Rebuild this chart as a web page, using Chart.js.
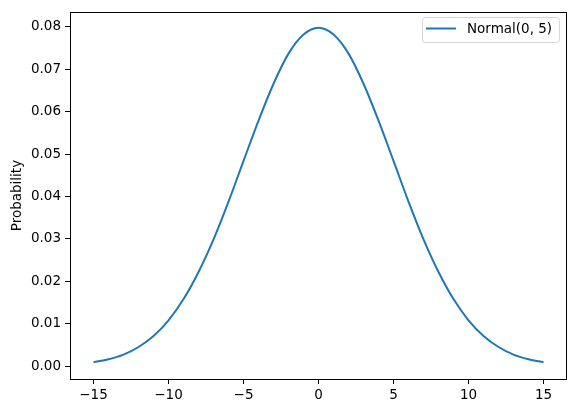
<!DOCTYPE html>
<html>
<head>
<meta charset="utf-8">
<script src="https://cdn.jsdelivr.net/npm/chart.js@4"></script>
<style>
  html, body { margin: 0; padding: 0; background: #fff; }
  #wrap { width: 576px; height: 413px; }
</style>
</head>
<body>
<div id="wrap"><canvas id="myChart" width="576" height="413"></canvas></div>
<script>
// values
const xs = [-15, -14, -13, -12, -11, -10, -9, -8, -7, -6, -5, -4, -3, -2, -1, 0,
            1, 2, 3, 4, 5, 6, 7, 8, 9, 10, 11, 12, 13, 14, 15];
const probs = [0.0009, 0.0016, 0.0027, 0.0045, 0.0071, 0.0108, 0.0158, 0.0222, 0.0299, 0.0388,
               0.0484, 0.0579, 0.0666, 0.0737, 0.0782, 0.0798, 0.0782, 0.0737, 0.0666, 0.0579,
               0.0484, 0.0388, 0.0299, 0.0222, 0.0158, 0.0108, 0.0071, 0.0045, 0.0027, 0.0016, 0.0009];
const xTicks = [-15, -10, -5, 0, 5, 10, 15];
const yTicks = [0, 0.01, 0.02, 0.03, 0.04, 0.05, 0.06, 0.07, 0.08];
const seriesLabel = 'Normal(0, 5)';

const FONT = 'DejaVu Sans';
const fmtMinus = s => String(s).replace('-', '\u2212');

// box around plot + matplotlib style legend
const frame = {
  id: 'frame',
  afterDraw(chart) {
    const { ctx, chartArea: a } = chart;
    ctx.save();
    ctx.strokeStyle = '#000';
    ctx.lineWidth = 1;
    ctx.strokeRect(Math.round(a.left) + 0.5, Math.round(a.top) + 0.5,
                   Math.round(a.right - a.left), Math.round(a.bottom - a.top));

    // legend
    const bx = 422.5, by = 17.5, bw = 137, bh = 25;
    ctx.fillStyle = 'rgba(255,255,255,0.8)';
    ctx.strokeStyle = '#d6d6d6';
    ctx.beginPath();
    ctx.roundRect(bx, by, bw, bh, 3);
    ctx.fill();
    ctx.stroke();
    ctx.strokeStyle = '#1f77b4';
    ctx.lineWidth = 2;
    ctx.beginPath();
    ctx.moveTo(426, 28.5);
    ctx.lineTo(456, 28.5);
    ctx.stroke();
    ctx.fillStyle = '#000';
    ctx.font = '13.5px "' + FONT + '"';
    ctx.textBaseline = 'middle';
    ctx.fillText(chart.data.datasets[0].label, 467, 29);
    ctx.restore();
  }
};

const ctx = document.getElementById('myChart').getContext('2d');
new Chart(ctx, {
  type: 'line',
  data: {
    datasets: [{
      label: seriesLabel,
      data: xs.map((x, i) => ({ x: x, y: probs[i] })),
      borderColor: '#1f77b4',
      borderWidth: 2,
      pointRadius: 0,
      fill: false,
      cubicInterpolationMode: 'monotone'
    }]
  },
  options: {
    responsive: false,
    animation: false,
    layout: { padding: { left: 0, top: 10, right: 10, bottom: 0 } },
    plugins: { legend: { display: false }, tooltip: { enabled: false } },
    scales: {
      x: {
        type: 'linear',
        min: -16.57,
        max: 16.5,
        afterBuildTicks: s => { s.ticks = xTicks.map(v => ({ value: v })); },
        afterFit: s => { s.height = 34; },
        border: { display: true, color: '#000' },
        grid: { display: true, drawOnChartArea: false, drawTicks: true, tickLength: 5, color: '#000' },
        ticks: {
          color: '#000', padding: 3, maxRotation: 0,
          font: { family: FONT, size: 13.5 },
          callback: v => fmtMinus(v)
        }
      },
      y: {
        min: -0.00305,
        max: 0.0835,
        afterBuildTicks: s => { s.ticks = yTicks.map(v => ({ value: v })); },
        afterFit: s => { s.width = 70; },
        border: { display: true, color: '#000' },
        grid: { display: true, drawOnChartArea: false, drawTicks: true, tickLength: 5, color: '#000' },
        title: {
          display: true, text: 'Probability', color: '#000',
          font: { family: FONT, size: 13.5 }, padding: { top: 9, bottom: 0 }
        },
        ticks: {
          color: '#000', padding: 4,
          font: { family: FONT, size: 13.5 },
          callback: v => v.toFixed(2)
        }
      }
    }
  },
  plugins: [frame]
});
</script>
</body>
</html>
